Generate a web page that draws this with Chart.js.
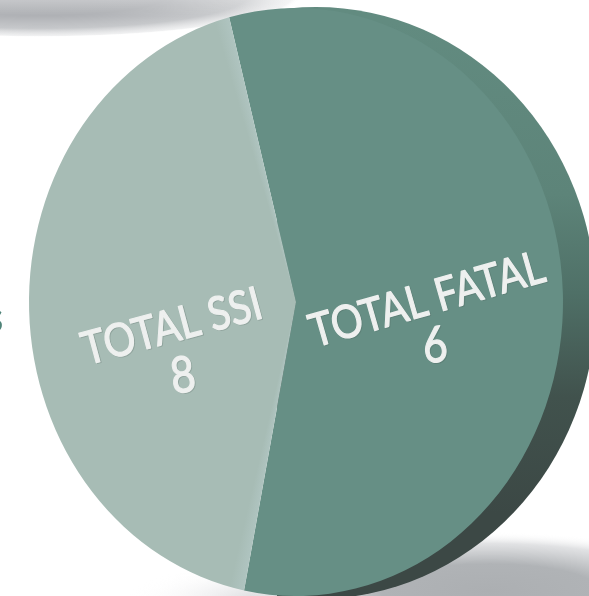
<!DOCTYPE html>
<html><head><meta charset="utf-8">
<style>html,body{margin:0;padding:0;background:#fff;overflow:hidden}canvas{display:block}</style>
<script src="https://cdn.jsdelivr.net/npm/chart.js@4/dist/chart.umd.min.js"></script>
</head><body><canvas id="c" width="589" height="596"></canvas>
<script>
// Printed labels as they appear on the reference
const categories = ["TOTAL FATAL", "TOTAL SSI"];
const printedValues = ["6", "8"];
const sliceValues = [8, 6];
const sliceColors = ["#668f85", "#a7bcb5"];

const FACE = {x: 296, y: 302, rx: 267, ry: 294};
const SIDE = {x: 316, y: 303, rx: 280, ry: 296};
const ROTATION = -14.5;

function softEllipse(ctx, x, y, rx, ry, stops) {
  ctx.save();
  ctx.translate(x, y);
  ctx.scale(1, ry / rx);
  const g = ctx.createRadialGradient(0, 0, 0, 0, 0, rx);
  stops.forEach(s => g.addColorStop(s[0], s[1]));
  ctx.fillStyle = g;
  ctx.beginPath(); ctx.arc(0, 0, rx, 0, Math.PI * 2); ctx.fill();
  ctx.restore();
}

function drawShadows(ctx) {
  softEllipse(ctx, 40, -6, 262, 43, [
    [0, "rgba(172,174,178,1)"], [0.5, "rgba(174,176,180,1)"],
    [0.8, "rgba(192,194,197,0.9)"], [0.97, "rgba(222,223,225,0.45)"],
    [1, "rgba(255,255,255,0)"]]);
  const g = ctx.createLinearGradient(0, 0, 0, 16);
  g.addColorStop(0, "rgba(255,255,255,0.3)");
  g.addColorStop(1, "rgba(255,255,255,0)");
  ctx.fillStyle = g; ctx.fillRect(0, 0, 300, 16);
  softEllipse(ctx, 300, 602, 175, 42, [
    [0, "rgba(190,191,195,1)"], [1, "rgba(255,255,255,0)"]]);
  softEllipse(ctx, 490, 590, 240, 58, [
    [0, "rgba(172,175,178,1)"], [0.45, "rgba(176,179,182,1)"],
    [0.8, "rgba(222,223,225,0.9)"], [1, "rgba(255,255,255,0)"]]);
}

function drawSide(ctx) {
  const g = ctx.createLinearGradient(0, 20, 0, 600);
  g.addColorStop(0, "#628b80");
  g.addColorStop(0.3, "#5d8479");
  g.addColorStop(0.47, "#4f7067");
  g.addColorStop(0.65, "#41524d");
  g.addColorStop(0.85, "#3c4845");
  g.addColorStop(1, "#3c4845");
  ctx.save();
  ctx.beginPath(); ctx.rect(277, 0, 312, 596); ctx.clip();
  ctx.fillStyle = g;
  ctx.beginPath();
  ctx.ellipse(SIDE.x, SIDE.y, SIDE.rx, SIDE.ry, 0, 0, Math.PI * 2);
  ctx.fill();
  ctx.restore();
}

function label(ctx, text, x, y, deg, size, sx) {
  ctx.save();
  ctx.translate(x, y);
  ctx.rotate(deg * Math.PI / 180);
  ctx.scale(sx, 1);
  ctx.font = size + 'px Lato, "Open Sans", sans-serif';
  ctx.textAlign = "center";
  ctx.textBaseline = "middle";
  ctx.lineJoin = "round";
  ctx.fillStyle = ctx.strokeStyle = "rgba(70,80,78,0.22)";
  ctx.lineWidth = 1.2;
  ctx.strokeText(text, 1, 1);
  ctx.fillStyle = ctx.strokeStyle = "#eef0ef";
  ctx.fillText(text, 0, 0);
  ctx.strokeText(text, 0, 0);
  ctx.restore();
}

function sliceFill(c) {
  const color = sliceColors[c.dataIndex];
  if (c.dataIndex !== 1 || !c.chart.chartArea) return color;
  const a = c.chart.chartArea;
  const total = sliceValues[0] + sliceValues[1];
  const span = sliceValues[1] / total;
  const start = (ROTATION - 90 + 360 * sliceValues[0] / total) * Math.PI / 180;
  const g = c.chart.ctx.createConicGradient(start, (a.left + a.right) / 2, (a.top + a.bottom) / 2);
  g.addColorStop(0, "#afc4c0");
  g.addColorStop(0.009, color);
  g.addColorStop(span - 0.009, color);
  g.addColorStop(span, "#afc4c0");
  g.addColorStop(span + 0.001, color);
  g.addColorStop(1, color);
  return g;
}

const ellipsePlugin = {
  id: "ellipse",
  beforeDatasetsDraw(chart) {
    const ctx = chart.ctx;
    drawShadows(ctx);
    drawSide(ctx);
    const a = chart.getDatasetMeta(0).data[0];
    ctx.save();
    ctx.translate(FACE.x, FACE.y);
    ctx.scale(FACE.rx / a.outerRadius, FACE.ry / a.outerRadius);
    ctx.translate(-a.x, -a.y);
  },
  afterDatasetsDraw(chart) {
    const ctx = chart.ctx;
    ctx.restore();
    label(ctx, categories[1], 172, 327, -15, 46, 0.86);
    label(ctx, printedValues[1], 183, 376, -8, 50, 0.85);
    label(ctx, categories[0], 427, 300, -16, 46, 0.86);
    label(ctx, printedValues[0], 435, 346, -6, 50, 0.85);
    ctx.save();
    ctx.font = 'bold 30px Lato, sans-serif';
    ctx.textBaseline = "middle";
    ctx.textAlign = "right";
    ctx.fillStyle = "#4f8378";
    ctx.fillText("S", 3, 322);
    ctx.restore();
  }
};

new Chart(document.getElementById("c"), {
  type: "pie",
  data: {
    labels: categories,
    datasets: [{data: sliceValues, backgroundColor: sliceFill, borderWidth: 0}]
  },
  options: {
    responsive: false,
    animation: false,
    rotation: ROTATION,
    layout: {padding: 0},
    plugins: {legend: {display: false}, tooltip: {enabled: false}}
  },
  plugins: [ellipsePlugin]
});
</script></body></html>
